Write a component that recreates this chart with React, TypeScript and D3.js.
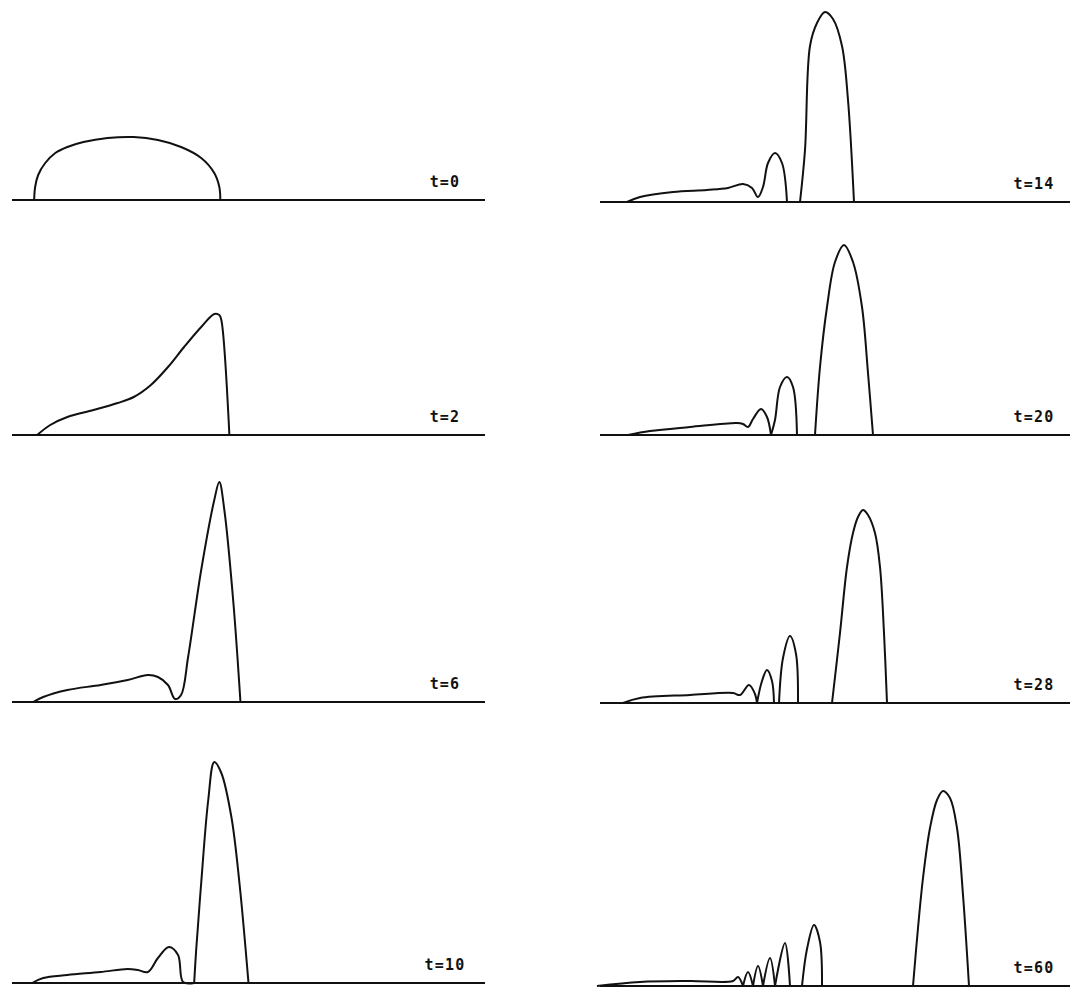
import React from "react";
import * as d3 from "d3";

// wave profiles: [x, height], in 10px units along / above each axis
const wave0 = [[2.2, 0], [2.3, 1.3], [2.6, 2.5], [3.3, 3.7], [4.3, 4.7], [5.5, 5.3], [7.1, 5.8], [9.5, 6.2], [12.1, 6.3], [14.5, 6.0], [16.8, 5.3], [18.8, 4.2], [20.1, 2.7], [20.6, 1.3], [20.7, 0]];
const wave2 = [[2.5, 0], [3.8, 1.0], [5.5, 1.8], [8.1, 2.5], [10.5, 3.2], [12.1, 3.8], [13.8, 5.0], [15.5, 6.8], [17.1, 8.8], [18.8, 10.8], [20.1, 12.1], [20.6, 12.0], [20.8, 11.5], [21.6, 0]];
const wave6 = [[2.1, 0], [3.1, 0.5], [5.5, 1.2], [8.8, 1.7], [11.5, 2.2], [13.5, 2.7], [14.5, 2.5], [15.5, 1.7], [16.2, 0.3], [16.8, 0.7], [17.5, 4.5], [18.8, 13.2], [20.1, 20.2], [20.6, 22.0], [21.1, 19.2], [22.0, 9.9], [22.7, 0]];
const wave10 = [[2.0, 0], [3.1, 0.5], [5.5, 0.8], [8.8, 1.1], [11.5, 1.4], [12.5, 1.3], [13.5, 1.1], [14.5, 2.5], [15.6, 3.6], [16.5, 2.8], [17.0, 0.1], [18.1, 0], [18.3, 3.3], [18.8, 10.0], [19.5, 18.3], [20.1, 22.1], [20.8, 21.0], [21.8, 16.6], [22.6, 10.0], [23.5, 0]];
const wave14 = [[2.7, 0], [4.0, 0.5], [7.3, 1.0], [10.7, 1.2], [12.8, 1.4], [14.3, 1.8], [15.2, 1.4], [15.8, 0.5], [16.3, 1.5], [16.8, 3.9], [17.5, 4.9], [18.2, 3.9], [18.7, 0], [20.0, 0], [20.5, 5.2], [21.0, 15.6], [21.7, 17.9], [22.5, 19.0], [23.3, 18.3], [24.2, 15.6], [24.8, 10.2], [25.4, 0]];
const wave20 = [[2.8, 0], [5.0, 0.4], [9.0, 0.8], [13.7, 1.2], [14.3, 1.1], [14.8, 0.8], [15.3, 1.6], [16.1, 2.6], [16.7, 1.8], [17.1, 0], [17.5, 1.5], [18.0, 4.8], [18.7, 5.8], [19.3, 4.8], [19.7, 0], [21.5, 0], [22.0, 6.8], [22.7, 12.8], [23.5, 17.3], [24.4, 19.0], [25.3, 17.3], [26.2, 12.8], [26.8, 6.2], [27.3, 0]];
const wave28 = [[2.3, 0], [4.0, 0.5], [9.0, 0.8], [13.3, 1.0], [14.0, 0.8], [14.9, 1.8], [15.5, 0.9], [15.7, 0], [16.2, 2.2], [16.7, 3.3], [17.2, 2.2], [17.4, 0], [17.9, 0], [18.3, 4.5], [19.0, 6.7], [19.6, 4.9], [19.8, 0], [23.2, 0], [24.0, 7.0], [24.7, 13.6], [25.3, 17.0], [25.8, 18.6], [26.3, 19.3], [26.8, 18.8], [27.5, 17.0], [28.0, 13.6], [28.4, 7.0], [28.7, 0]];
const wave60 = [[-0.3, 0], [4.0, 0.4], [9.0, 0.5], [13.3, 0.5], [13.8, 0.9], [14.3, 0], [14.8, 1.4], [15.3, 0], [15.8, 2.0], [16.3, 0], [17.0, 2.8], [17.5, 0], [18.5, 4.3], [19.0, 0], [20.2, 0], [20.7, 3.7], [21.4, 6.1], [22.0, 4.4], [22.2, 0], [31.3, 0], [31.8, 5.8], [32.3, 10.8], [33.0, 15.8], [33.7, 18.6], [34.3, 19.5], [35.0, 18.8], [35.7, 15.8], [36.3, 9.1], [36.9, 0]];

const labels = ["t=0", "t=2", "t=6", "t=10", "t=14", "t=20", "t=28", "t=60"];
const waves = [wave0, wave2, wave6, wave10, wave14, wave20, wave28, wave60];

// panel layout
const baselines = [200, 435, 702, 983, 202, 435, 703, 986];
const columns = [
  { x0: 12, x1: 485, labelX: 445 },
  { x0: 600, x1: 1070, labelX: 1034 },
];

// cut a profile into pieces where it touches the axis, so the feet stay sharp
function splitAtZero(pts: number[][]) {
  const pieces: number[][][] = [];
  let cur: number[][] = [];
  pts.forEach((p, i) => {
    cur.push(p);
    if (p[1] === 0 && i > 0) {
      pieces.push(cur);
      cur = [p];
    }
  });
  if (cur.length > 1) pieces.push(cur);
  return pieces;
}

export default function App() {
  const panels = waves.map((w, i) => {
    const col = columns[Math.floor(i / 4)];
    const base = baselines[i];
    const x = d3.scaleLinear().domain([0, 47]).range([col.x0, col.x1]);
    const y = d3.scaleLinear().domain([0, 24]).range([base, base - 240]);
    const line = d3
      .line<number[]>()
      .x((d) => x(d[0]))
      .y((d) => y(d[1]))
      .curve(d3.curveCatmullRom.alpha(0.5));
    return (
      <g key={labels[i]}>
        <line x1={col.x0} x2={col.x1} y1={base} y2={base} stroke="#111" strokeWidth={2} />
        {splitAtZero(w).map((piece, j) => (
          <path key={j} d={line(piece) || ""} fill="none" stroke="#111" strokeWidth={2} strokeLinejoin="round" />
        ))}
        <text
          x={col.labelX}
          y={base - 13}
          textAnchor="middle"
          fontFamily="'DejaVu Sans Mono', monospace"
          fontWeight="bold"
          fontSize={15}
          letterSpacing={1.2}
          fill="#111"
        >
          {labels[i]}
        </text>
      </g>
    );
  });

  return (
    <svg width={1086} height={991} style={{ position: "absolute", left: 0, top: 0, background: "#fff" }}>
      {panels}
    </svg>
  );
}
